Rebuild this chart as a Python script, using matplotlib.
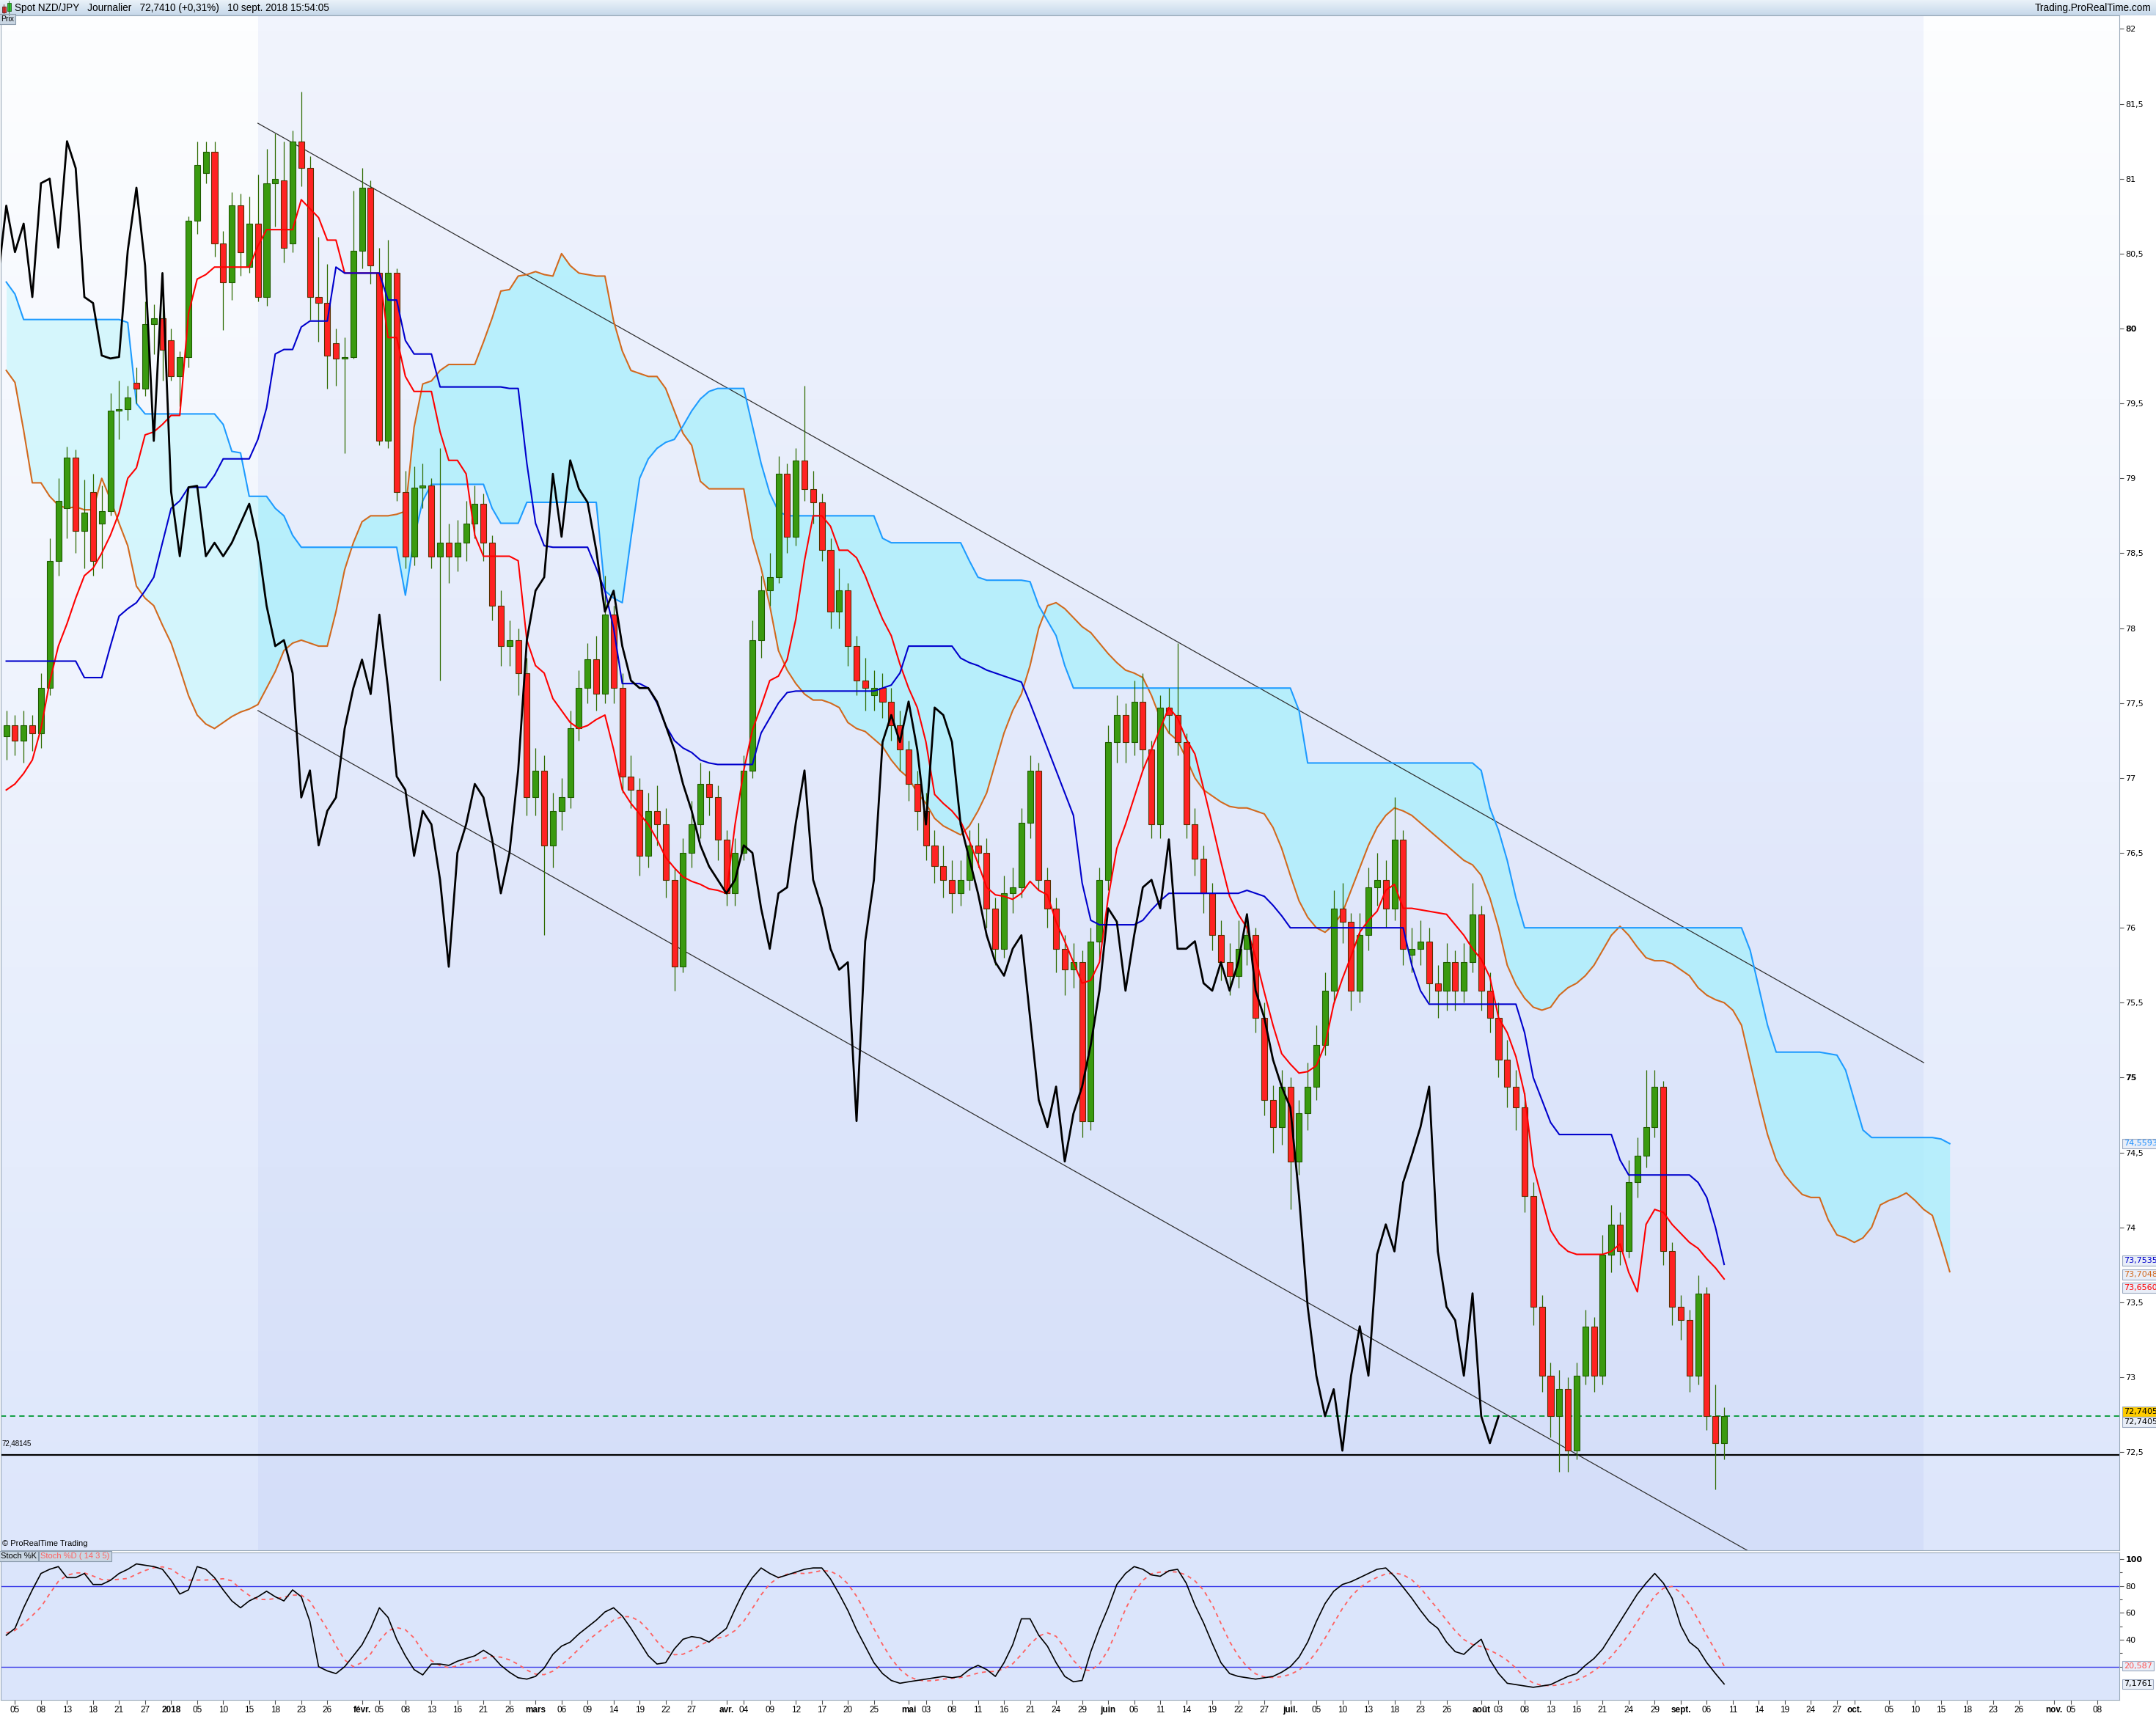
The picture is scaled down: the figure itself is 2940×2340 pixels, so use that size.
import numpy as np
import pandas as pd
import matplotlib
matplotlib.use('Agg')
import matplotlib.pyplot as plt
from matplotlib.colors import LinearSegmentedColormap
from matplotlib.patches import Rectangle

# ---------------- data (one value per trading day, 4 Dec 2017 -> 10 Sep 2018) ----------------
open_ = [77.28, 77.35, 77.25, 77.35, 77.30, 77.60, 78.45, 78.80, 79.14, 78.65,
         78.91, 78.70, 78.78, 79.45, 79.46, 79.64, 79.60, 80.03, 80.07, 79.92,
         79.68, 79.81, 80.72, 81.04, 81.18, 80.57, 80.31, 80.82, 80.41, 80.70,
         80.21, 80.97, 80.99, 80.57, 81.25, 81.07, 80.21, 80.17, 79.90, 79.80,
         79.81, 80.52, 80.94, 80.37, 79.25, 80.37, 78.91, 78.48, 78.94, 78.95,
         78.48, 78.57, 78.48, 78.57, 78.70, 78.83, 78.57, 78.15, 77.88, 77.92,
         77.70, 76.87, 77.05, 76.55, 76.78, 76.87, 77.33, 77.60, 77.79, 77.56,
         78.09, 77.60, 77.01, 76.92, 76.48, 76.78, 76.69, 76.32, 75.74, 76.50,
         76.69, 76.96, 76.87, 76.59, 76.23, 76.50, 77.05, 77.92, 78.25, 78.34,
         79.03, 78.61, 79.12, 78.93, 78.84, 78.52, 78.11, 78.25, 77.88, 77.65,
         77.55, 77.60, 77.51, 77.35, 77.19, 76.96, 76.78, 76.55, 76.41, 76.32,
         76.23, 76.32, 76.55, 76.50, 76.13, 75.86, 76.23, 76.27, 76.70, 77.05,
         76.32, 76.13, 75.86, 75.72, 75.77, 74.71, 75.91, 76.32, 77.24, 77.42,
         77.24, 77.51, 77.19, 76.69, 77.47, 77.42, 77.24, 76.69, 76.46, 76.23,
         75.95, 75.77, 75.68, 75.86, 75.95, 75.40, 74.85, 74.67, 74.94, 74.44,
         74.76, 74.94, 75.22, 75.58, 76.13, 76.04, 75.58, 75.95, 76.27, 76.32,
         76.13, 76.59, 75.82, 75.86, 75.91, 75.63, 75.58, 75.77, 75.58, 75.77,
         76.09, 75.58, 75.40, 75.12, 74.94, 74.80, 74.21, 73.47, 73.01, 72.74,
         72.92, 72.51, 73.01, 73.34, 73.01, 73.82, 74.02, 73.84, 74.30, 74.48,
         74.67, 74.94, 73.84, 73.47, 73.38, 73.01, 73.56, 72.74, 72.56]
high = [77.45, 77.42, 77.45, 77.42, 77.70, 78.60, 79.00, 79.21, 79.19, 78.99,
        79.03, 78.95, 79.57, 79.65, 79.62, 79.74, 80.18, 80.16, 80.23, 80.00,
        79.85, 80.75, 81.25, 81.25, 81.25, 80.65, 80.91, 80.90, 80.88, 81.03,
        81.20, 81.30, 81.25, 81.32, 81.58, 81.15, 80.61, 80.43, 80.00, 79.94,
        80.92, 81.07, 80.99, 80.54, 80.59, 80.40, 79.05, 79.08, 79.10, 79.00,
        79.20, 78.70, 78.72, 78.85, 78.95, 78.90, 78.62, 78.25, 78.05, 78.00,
        77.80, 77.20, 77.15, 76.90, 77.00, 77.45, 77.72, 77.90, 77.95, 78.35,
        78.15, 77.70, 77.15, 77.00, 76.90, 76.95, 76.80, 76.40, 76.60, 76.85,
        77.10, 77.05, 76.95, 76.65, 76.60, 77.15, 78.05, 78.35, 78.50, 79.15,
        79.10, 79.20, 79.62, 79.05, 78.90, 78.60, 78.40, 78.30, 77.95, 77.80,
        77.72, 77.70, 77.60, 77.45, 77.25, 77.05, 76.90, 76.65, 76.55, 76.45,
        76.45, 76.65, 76.70, 76.60, 76.20, 76.35, 76.40, 76.80, 77.15, 77.10,
        76.40, 76.20, 75.95, 75.90, 75.85, 76.00, 76.40, 77.35, 77.55, 77.50,
        77.65, 77.70, 77.25, 77.55, 77.60, 77.90, 77.30, 76.80, 76.55, 76.30,
        76.05, 75.90, 76.05, 76.10, 76.00, 75.50, 74.95, 75.05, 75.00, 74.85,
        75.10, 75.35, 75.70, 76.25, 76.30, 76.10, 76.10, 76.40, 76.50, 76.45,
        76.87, 76.65, 76.00, 76.05, 76.00, 75.75, 75.90, 75.85, 75.90, 76.30,
        76.15, 75.70, 75.50, 75.25, 75.05, 74.90, 74.30, 73.55, 73.10, 73.05,
        73.00, 73.10, 73.45, 73.40, 73.95, 74.15, 74.10, 74.45, 74.60, 75.05,
        75.05, 74.98, 73.90, 73.55, 73.45, 73.68, 73.60, 72.95, 72.80]
low = [77.12, 77.15, 77.10, 77.18, 77.20, 77.55, 78.35, 78.60, 78.50, 78.40,
       78.35, 78.40, 78.75, 79.26, 79.39, 79.50, 79.55, 79.83, 79.65, 79.65,
       79.48, 79.74, 80.63, 80.97, 80.48, 79.99, 80.19, 80.35, 80.37, 80.18,
       80.15, 80.68, 80.44, 80.51, 80.95, 80.06, 79.91, 79.60, 79.62, 79.17,
       79.80, 80.40, 80.30, 79.22, 79.20, 78.85, 78.40, 78.42, 78.80, 78.40,
       77.65, 78.30, 78.38, 78.45, 78.60, 78.45, 78.05, 77.75, 77.75, 77.55,
       76.75, 76.75, 75.95, 76.40, 76.65, 76.80, 77.25, 77.50, 77.45, 77.50,
       77.50, 76.90, 76.80, 76.35, 76.40, 76.55, 76.20, 75.58, 75.70, 76.40,
       76.60, 76.75, 76.45, 76.15, 76.15, 76.45, 77.00, 77.80, 78.15, 78.30,
       78.50, 78.55, 78.85, 78.70, 78.45, 78.00, 78.00, 77.75, 77.55, 77.45,
       77.45, 77.40, 77.25, 77.05, 76.85, 76.65, 76.45, 76.30, 76.20, 76.10,
       76.15, 76.25, 76.40, 76.00, 75.75, 75.80, 76.10, 76.20, 76.60, 76.25,
       76.00, 75.70, 75.55, 75.60, 74.60, 74.65, 75.80, 76.25, 77.10, 77.10,
       77.15, 77.05, 76.60, 76.60, 77.30, 77.15, 76.60, 76.35, 76.10, 75.85,
       75.65, 75.55, 75.60, 75.75, 75.30, 74.75, 74.50, 74.55, 74.12, 74.35,
       74.65, 74.85, 75.15, 75.50, 75.90, 75.45, 75.50, 75.85, 76.15, 76.00,
       76.05, 75.75, 75.70, 75.75, 75.50, 75.40, 75.45, 75.45, 75.50, 75.70,
       75.45, 75.30, 75.00, 74.80, 74.65, 74.10, 73.35, 72.90, 72.60, 72.37,
       72.37, 72.45, 72.95, 72.90, 72.95, 73.70, 73.75, 73.80, 74.20, 74.40,
       74.60, 73.75, 73.35, 73.25, 72.90, 72.95, 72.65, 72.25, 72.45]
close = [77.35, 77.25, 77.35, 77.30, 77.60, 78.45, 78.85, 79.14, 78.65, 78.77,
         78.45, 78.78, 79.45, 79.46, 79.54, 79.60, 80.03, 80.07, 79.86, 79.68,
         79.81, 80.72, 81.09, 81.18, 80.57, 80.31, 80.82, 80.51, 80.70, 80.21,
         80.97, 81.00, 80.54, 81.25, 81.07, 80.21, 80.17, 79.82, 79.80, 79.81,
         80.52, 80.94, 80.42, 79.25, 80.37, 78.91, 78.48, 78.94, 78.95, 78.48,
         78.57, 78.48, 78.57, 78.70, 78.83, 78.57, 78.15, 77.88, 77.92, 77.70,
         76.87, 77.05, 76.55, 76.78, 76.87, 77.33, 77.60, 77.79, 77.56, 78.09,
         77.60, 77.01, 76.92, 76.48, 76.78, 76.69, 76.32, 75.74, 76.50, 76.69,
         76.96, 76.87, 76.59, 76.23, 76.50, 77.05, 77.92, 78.25, 78.34, 79.03,
         78.61, 79.12, 78.93, 78.84, 78.52, 78.11, 78.25, 77.88, 77.65, 77.60,
         77.60, 77.51, 77.35, 77.19, 76.96, 76.78, 76.55, 76.41, 76.32, 76.23,
         76.32, 76.55, 76.50, 76.13, 75.86, 76.23, 76.27, 76.70, 77.05, 76.32,
         76.13, 75.86, 75.72, 75.77, 74.71, 75.91, 76.32, 77.24, 77.42, 77.24,
         77.51, 77.19, 76.69, 77.47, 77.42, 77.24, 76.69, 76.46, 76.23, 75.95,
         75.77, 75.68, 75.86, 75.95, 75.40, 74.85, 74.67, 74.94, 74.44, 74.76,
         74.94, 75.22, 75.58, 76.13, 76.04, 75.58, 75.95, 76.27, 76.32, 76.13,
         76.59, 75.86, 75.86, 75.91, 75.63, 75.58, 75.77, 75.58, 75.77, 76.09,
         75.58, 75.40, 75.12, 74.94, 74.80, 74.21, 73.47, 73.01, 72.74, 72.92,
         72.51, 73.01, 73.34, 73.01, 73.82, 74.02, 73.84, 74.30, 74.48, 74.67,
         74.94, 73.84, 73.47, 73.38, 73.01, 73.56, 72.74, 72.56, 72.74]

tenkan = [76.92, 76.96, 77.03, 77.12, 77.33, 77.64, 77.88, 78.03, 78.20, 78.35,
          78.40, 78.50, 78.62, 78.77, 79.00, 79.07, 79.29, 79.31, 79.36, 79.42,
          79.42, 80.10, 80.33, 80.36, 80.41, 80.41, 80.41, 80.41, 80.41, 80.55,
          80.66, 80.66, 80.66, 80.66, 80.86, 80.80, 80.74, 80.59, 80.59, 80.37,
          80.37, 80.37, 80.37, 80.37, 79.94, 79.94, 79.68, 79.58, 79.58, 79.58,
          79.31, 79.12, 79.12, 79.03, 78.62, 78.48, 78.48, 78.48, 78.48, 78.45,
          77.92, 77.75, 77.70, 77.53, 77.45, 77.37, 77.33, 77.35, 77.39, 77.42,
          77.19, 76.92, 76.83, 76.76, 76.69, 76.59, 76.47, 76.40, 76.34, 76.31,
          76.29, 76.26, 76.25, 76.23, 76.69, 77.05, 77.32, 77.48, 77.65, 77.68,
          77.79, 78.06, 78.45, 78.75, 78.75, 78.68, 78.52, 78.52, 78.47, 78.35,
          78.20, 78.06, 77.95, 77.76, 77.60, 77.47, 77.24, 76.89, 76.83, 76.78,
          76.71, 76.58, 76.43, 76.27, 76.22, 76.21, 76.19, 76.23, 76.31, 76.25,
          76.22, 76.04, 75.91, 75.77, 75.63, 75.65, 75.77, 76.20, 76.53, 76.69,
          76.87, 77.05, 77.19, 77.33, 77.47, 77.40, 77.26, 77.16, 76.93, 76.69,
          76.44, 76.21, 76.09, 76.00, 75.80, 75.57, 75.35, 75.16, 75.09, 75.03,
          75.04, 75.08, 75.22, 75.49, 75.66, 75.81, 75.97, 76.05, 76.11, 76.25,
          76.29, 76.13, 76.13, 76.12, 76.11, 76.10, 76.09, 76.02, 75.95, 75.86,
          75.79, 75.67, 75.40, 75.30, 75.14, 74.89, 74.41, 74.19, 73.98, 73.89,
          73.84, 73.82, 73.82, 73.82, 73.82, 73.84, 73.89, 73.70, 73.57, 74.02,
          74.12, 74.10, 74.02, 73.96, 73.90, 73.86, 73.79, 73.73, 73.656]
kijun = [77.78, 77.78, 77.78, 77.78, 77.78, 77.78, 77.78, 77.78, 77.78, 77.67,
         77.67, 77.67, 77.88, 78.08, 78.13, 78.17, 78.25, 78.34, 78.57, 78.80,
         78.85, 78.94, 78.94, 78.94, 79.02, 79.13, 79.13, 79.13, 79.13, 79.26,
         79.47, 79.83, 79.86, 79.86, 80.01, 80.05, 80.05, 80.05, 80.41, 80.37,
         80.37, 80.37, 80.37, 80.37, 80.19, 80.19, 79.92, 79.83, 79.83, 79.83,
         79.61, 79.61, 79.61, 79.61, 79.61, 79.61, 79.61, 79.61, 79.60, 79.60,
         79.10, 78.70, 78.55, 78.54, 78.54, 78.54, 78.54, 78.54, 78.40, 78.25,
         78.00, 77.63, 77.63, 77.63, 77.60, 77.50, 77.35, 77.25, 77.20, 77.17,
         77.12, 77.10, 77.09, 77.09, 77.09, 77.09, 77.09, 77.30, 77.40, 77.50,
         77.57, 77.58, 77.58, 77.58, 77.58, 77.58, 77.58, 77.58, 77.58, 77.58,
         77.58, 77.60, 77.62, 77.70, 77.88, 77.88, 77.88, 77.88, 77.88, 77.88,
         77.80, 77.77, 77.75, 77.72, 77.70, 77.68, 77.66, 77.64, 77.50, 77.35,
         77.20, 77.05, 76.90, 76.75, 76.30, 76.05, 76.02, 76.02, 76.02, 76.02,
         76.02, 76.05, 76.12, 76.18, 76.23, 76.23, 76.23, 76.23, 76.23, 76.23,
         76.23, 76.23, 76.23, 76.25, 76.23, 76.21, 76.15, 76.08, 76.00, 76.00,
         76.00, 76.00, 76.00, 76.00, 76.00, 76.00, 76.00, 76.00, 76.00, 76.00,
         76.00, 76.00, 75.75, 75.58, 75.49, 75.49, 75.49, 75.49, 75.49, 75.49,
         75.49, 75.49, 75.49, 75.49, 75.49, 75.30, 75.00, 74.85, 74.70, 74.62,
         74.62, 74.62, 74.62, 74.62, 74.62, 74.62, 74.45, 74.35, 74.35, 74.35,
         74.35, 74.35, 74.35, 74.35, 74.35, 74.30, 74.20, 74.00, 73.7535]
# leading spans: 26 extra days into the future (to 16 Oct 2018)
senkou_a = [79.72, 79.64, 79.32, 78.97, 78.97, 78.88, 78.82, 78.80, 78.81, 78.79,
            78.79, 79.00, 78.86, 78.70, 78.55, 78.28, 78.20, 78.15, 78.02, 77.90,
            77.73, 77.55, 77.42, 77.36, 77.33, 77.37, 77.41, 77.44, 77.46, 77.49,
            77.60, 77.71, 77.85, 77.90, 77.92, 77.90, 77.88, 77.88, 78.11, 78.39,
            78.57, 78.71, 78.75, 78.75, 78.75, 78.76, 78.78, 79.34, 79.63, 79.65,
            79.72, 79.76, 79.76, 79.76, 79.76, 79.91, 80.07, 80.25, 80.26, 80.35,
            80.36, 80.38, 80.36, 80.35, 80.50, 80.42, 80.37, 80.36, 80.35, 80.35,
            80.05, 79.85, 79.72, 79.70, 79.68, 79.68, 79.60, 79.45, 79.30, 79.22,
            78.98, 78.93, 78.93, 78.93, 78.93, 78.93, 78.60, 78.40, 78.15, 77.85,
            77.72, 77.63, 77.56, 77.52, 77.52, 77.50, 77.47, 77.37, 77.33, 77.31,
            77.26, 77.21, 77.12, 77.05, 77.00, 76.90, 76.83, 76.73, 76.68, 76.65,
            76.62, 76.68, 76.78, 76.90, 77.10, 77.30, 77.45, 77.56, 77.75, 78.00,
            78.15, 78.17, 78.13, 78.07, 78.01, 77.97, 77.90, 77.83, 77.77, 77.72,
            77.70, 77.67, 77.55, 77.40, 77.30, 77.25, 77.13, 77.00, 76.92, 76.88,
            76.84, 76.81, 76.80, 76.80, 76.78, 76.76, 76.67, 76.53, 76.35, 76.18,
            76.07, 76.00, 75.97, 76.02, 76.10, 76.25, 76.40, 76.55, 76.67, 76.75,
            76.80, 76.78, 76.75, 76.70, 76.65, 76.60, 76.55, 76.50, 76.45, 76.42,
            76.35, 76.20, 76.00, 75.75, 75.62, 75.53, 75.47, 75.45, 75.47, 75.55,
            75.60, 75.63, 75.68, 75.75, 75.85, 75.95, 76.01, 75.95, 75.87, 75.80,
            75.78, 75.78, 75.76, 75.72, 75.68, 75.60, 75.55, 75.52, 75.50, 75.45,
            75.35, 75.10, 74.85, 74.62, 74.45, 74.35, 74.28, 74.22, 74.20, 74.20,
            74.05, 73.95, 73.93, 73.90, 73.93, 74.00, 74.15, 74.18, 74.20, 74.23,
            74.18, 74.12, 74.08, 73.90, 73.7048]
senkou_b = [80.31, 80.23, 80.06, 80.06, 80.06, 80.06, 80.06, 80.06, 80.06, 80.06,
            80.06, 80.06, 80.06, 80.06, 80.04, 79.50, 79.43, 79.43, 79.43, 79.43,
            79.43, 79.43, 79.43, 79.43, 79.43, 79.36, 79.18, 79.17, 78.88, 78.88,
            78.88, 78.80, 78.75, 78.62, 78.54, 78.54, 78.54, 78.54, 78.54, 78.54,
            78.54, 78.54, 78.54, 78.54, 78.54, 78.54, 78.22, 78.60, 78.85, 78.96,
            78.96, 78.96, 78.96, 78.96, 78.96, 78.96, 78.80, 78.70, 78.70, 78.70,
            78.84, 78.84, 78.84, 78.84, 78.84, 78.84, 78.84, 78.84, 78.84, 78.25,
            78.20, 78.17, 78.60, 79.00, 79.13, 79.20, 79.24, 79.26, 79.35, 79.45,
            79.53, 79.58, 79.60, 79.60, 79.60, 79.60, 79.35, 79.10, 78.90, 78.78,
            78.75, 78.75, 78.75, 78.75, 78.75, 78.75, 78.75, 78.75, 78.75, 78.75,
            78.75, 78.60, 78.57, 78.57, 78.57, 78.57, 78.57, 78.57, 78.57, 78.57,
            78.57, 78.45, 78.34, 78.32, 78.32, 78.32, 78.32, 78.32, 78.31, 78.15,
            78.05, 77.95, 77.75, 77.60, 77.60, 77.60, 77.60, 77.60, 77.60, 77.60,
            77.60, 77.60, 77.60, 77.60, 77.60, 77.60, 77.60, 77.60, 77.60, 77.60,
            77.60, 77.60, 77.60, 77.60, 77.60, 77.60, 77.60, 77.60, 77.60, 77.45,
            77.10, 77.10, 77.10, 77.10, 77.10, 77.10, 77.10, 77.10, 77.10, 77.10,
            77.10, 77.10, 77.10, 77.10, 77.10, 77.10, 77.10, 77.10, 77.10, 77.10,
            77.05, 76.80, 76.65, 76.45, 76.20, 76.00, 76.00, 76.00, 76.00, 76.00,
            76.00, 76.00, 76.00, 76.00, 76.00, 76.00, 76.00, 76.00, 76.00, 76.00,
            76.00, 76.00, 76.00, 76.00, 76.00, 76.00, 76.00, 76.00, 76.00, 76.00,
            76.00, 75.85, 75.60, 75.35, 75.17, 75.17, 75.17, 75.17, 75.17, 75.17,
            75.16, 75.15, 75.05, 74.85, 74.65, 74.60, 74.60, 74.60, 74.60, 74.60,
            74.60, 74.60, 74.60, 74.59, 74.5593]
stoch_k = [43.4, 48.5, 63.8, 77.1, 89.3, 92.4, 94.4, 86.2, 86.2, 89.3,
           81.1, 81.1, 84.2, 89.3, 92.4, 96.4, 95.4, 94.4, 92.4, 84.2,
           74.0, 77.1, 94.4, 92.4, 86.2, 77.1, 68.9, 63.8, 68.9, 72.0,
           76.1, 72.0, 68.9, 77.1, 72.0, 53.6, 20.0, 16.9, 14.9, 20.0,
           28.1, 36.3, 48.5, 63.8, 56.7, 40.4, 28.1, 17.9, 13.9, 22.0,
           22.0, 21.0, 24.1, 26.1, 28.1, 32.2, 28.1, 21.0, 15.9, 11.8,
           10.8, 12.8, 19.0, 29.2, 35.3, 38.3, 44.4, 49.5, 54.6, 60.7,
           63.8, 57.7, 48.5, 38.3, 28.1, 22.0, 23.0, 33.2, 40.4, 42.4,
           41.4, 38.3, 43.4, 48.5, 62.8, 76.1, 86.2, 93.4, 89.3, 86.2,
           88.2, 90.3, 92.4, 93.4, 93.4, 85.2, 74.0, 61.8, 47.5, 35.3,
           23.0, 14.9, 9.8, 7.7, 8.8, 9.8, 10.8, 11.8, 12.8, 11.8,
           12.8, 17.9, 21.0, 17.9, 12.8, 23.0, 36.3, 55.6, 55.6, 43.4,
           35.3, 23.0, 12.8, 8.8, 9.8, 31.2, 48.5, 63.8, 81.1, 89.3,
           94.4, 92.4, 88.2, 87.2, 91.3, 92.4, 82.1, 65.9, 52.6, 37.3,
           23.0, 14.9, 12.8, 11.8, 10.8, 11.8, 12.8, 15.9, 20.0, 27.1,
           38.3, 53.6, 66.9, 76.1, 81.1, 83.2, 86.2, 89.3, 92.4, 93.4,
           87.2, 79.1, 70.9, 61.8, 53.6, 48.5, 38.3, 31.2, 29.2, 35.3,
           40.4, 25.1, 14.9, 7.7, 6.7, 5.7, 4.7, 5.7, 6.7, 9.8,
           12.8, 14.9, 21.0, 26.1, 33.2, 43.4, 53.6, 63.8, 74.0, 82.1,
           89.3, 82.1, 70.9, 50.5, 38.3, 33.2, 23.0, 14.9, 7.1761]
stoch_d = [45.0, 47.0, 52.0, 58.0, 64.4, 74.2, 83.4, 87.9, 89.7, 89.7,
           87.4, 84.8, 84.4, 85.0, 85.6, 88.7, 91.5, 93.6, 94.2, 92.6,
           88.1, 84.4, 84.4, 84.4, 84.8, 85.4, 83.8, 77.7, 73.0, 70.1,
           69.9, 70.6, 71.6, 73.2, 73.2, 68.7, 58.3, 47.9, 35.5, 25.1,
           20.0, 23.2, 29.6, 39.3, 46.7, 49.1, 47.5, 41.4, 31.4, 24.5,
           20.8, 19.4, 20.6, 23.0, 24.3, 26.3, 27.7, 27.1, 25.1, 21.8,
           17.5, 14.5, 14.1, 16.7, 21.4, 26.9, 33.2, 39.3, 44.4, 49.5,
           54.6, 57.3, 57.1, 53.8, 47.3, 38.9, 32.0, 28.9, 29.3, 32.2,
           36.1, 39.1, 41.2, 42.8, 46.9, 53.8, 63.4, 73.4, 81.6, 86.2,
           88.7, 89.5, 89.3, 90.1, 91.5, 90.9, 87.7, 81.6, 72.4, 60.8,
           48.3, 36.5, 26.1, 18.1, 12.8, 10.2, 9.4, 9.8, 10.8, 11.4,
           12.0, 13.4, 15.3, 16.3, 16.5, 18.5, 22.2, 29.1, 36.7, 42.8,
           45.2, 42.6, 34.0, 24.7, 17.9, 17.1, 22.2, 32.4, 46.9, 62.8,
           75.4, 84.2, 89.1, 90.3, 90.7, 90.3, 88.2, 83.8, 76.9, 66.1,
           52.2, 38.7, 28.1, 20.0, 14.7, 12.4, 12.0, 12.6, 14.3, 17.5,
           22.8, 31.0, 41.2, 52.4, 63.2, 72.2, 78.7, 83.2, 86.4, 88.9,
           89.7, 88.3, 84.6, 78.5, 70.5, 62.8, 54.6, 46.7, 40.2, 36.5,
           34.9, 32.2, 29.0, 24.7, 19.0, 12.0, 7.9, 6.1, 5.9, 6.5,
           7.9, 10.0, 13.0, 16.9, 21.6, 27.7, 35.5, 44.0, 53.6, 63.4,
           72.6, 78.3, 79.7, 75.0, 66.2, 55.0, 43.2, 32.0, 20.587]

# channel (trading-day index, price)
channel_x = [29, 221]
channel_top = [81.37, 75.10]
channel_bottom = [77.45, 71.18]
support_level = 72.48145
last_price = 72.7405
chikou_shift = 26

tick_list = [('2017-12-05','05'),('2017-12-08','08'),('2017-12-13','13'),('2017-12-18','18'),('2017-12-21','21'),('2017-12-27','27'),('2018-01-02','2018'),('2018-01-05','05'),('2018-01-10','10'),('2018-01-15','15'),('2018-01-18','18'),('2018-01-23','23'),('2018-01-26','26'),('2018-02-01','févr.'),('2018-02-05','05'),('2018-02-08','08'),('2018-02-13','13'),('2018-02-16','16'),('2018-02-21','21'),('2018-02-26','26'),('2018-03-01','mars'),('2018-03-06','06'),('2018-03-09','09'),('2018-03-14','14'),('2018-03-19','19'),('2018-03-22','22'),('2018-03-27','27'),('2018-04-02','avr.'),('2018-04-04','04'),('2018-04-09','09'),('2018-04-12','12'),('2018-04-17','17'),('2018-04-20','20'),('2018-04-25','25'),('2018-05-01','mai'),('2018-05-03','03'),('2018-05-08','08'),('2018-05-11','11'),('2018-05-16','16'),('2018-05-21','21'),('2018-05-24','24'),('2018-05-29','29'),('2018-06-01','juin'),('2018-06-06','06'),('2018-06-11','11'),('2018-06-14','14'),('2018-06-19','19'),('2018-06-22','22'),('2018-06-27','27'),('2018-07-02','juil.'),('2018-07-05','05'),('2018-07-10','10'),('2018-07-13','13'),('2018-07-18','18'),('2018-07-23','23'),('2018-07-26','26'),('2018-08-01','août'),('2018-08-03','03'),('2018-08-08','08'),('2018-08-13','13'),('2018-08-16','16'),('2018-08-21','21'),('2018-08-24','24'),('2018-08-29','29'),('2018-09-03','sept.'),('2018-09-06','06'),('2018-09-11','11'),('2018-09-14','14'),('2018-09-19','19'),('2018-09-24','24'),('2018-09-27','27'),('2018-10-01','oct.'),('2018-10-05','05'),('2018-10-10','10'),('2018-10-15','15'),('2018-10-18','18'),('2018-10-23','23'),('2018-10-26','26'),('2018-11-01','nov.'),('2018-11-05','05'),('2018-11-08','08')]

# ---------------- arrays ----------------
o = np.array(open_); h = np.array(high); l = np.array(low); c = np.array(close)
N = len(c)
pos = np.arange(N)
cpos = np.arange(len(senkou_a))
ssa = np.array(senkou_a); ssb = np.array(senkou_b)

days = pd.bdate_range('2017-12-04', '2018-11-09')
days = days[~days.isin(pd.to_datetime(['2017-12-25', '2018-01-01']))]
dindex = {d.strftime('%Y-%m-%d'): i for i, d in enumerate(days)}

# ---------------- figure ----------------
FW, FH = 2940, 2340
fig = plt.figure(figsize=(FW / 100, FH / 100), dpi=100)
fig.patch.set_facecolor('white')

def fr(x0, y0, x1, y1):
    return [x0 / FW, 1 - y1 / FH, (x1 - x0) / FW, (y1 - y0) / FH]

FONT = ['Liberation Sans', 'DejaVu Sans']
NARROW = ['Liberation Sans Narrow', 'Liberation Sans', 'DejaVu Sans']

XMIN, XMAX = -0.64, 243.55
PY0, PY1 = 71.845, 82.09

# header
axh = fig.add_axes(fr(0, 0, FW, 21))
axh.set_xlim(0, FW); axh.set_ylim(21, 0)
axh.imshow(np.linspace(0, 1, 40).reshape(-1, 1), aspect='auto', extent=[0, FW, 21, 0],
           cmap=LinearSegmentedColormap.from_list('h', ['#eaf2f9', '#c6d8ea']))
axh.axhline(20.5, color='#98a8b8', lw=1)
axh.add_patch(Rectangle((3, 9), 5, 8, facecolor='#e03030', edgecolor='#602020', lw=0.6))
axh.add_patch(Rectangle((10, 4), 5, 11, facecolor='#30c030', edgecolor='#206020', lw=0.6))
axh.plot([5.5, 5.5], [6, 19], color='#602020', lw=0.6)
axh.plot([12.5, 12.5], [1, 18], color='#206020', lw=0.6)
axh.text(20, 10.5, 'Spot NZD/JPY   Journalier   72,7410 (+0,31%)   10 sept. 2018 15:54:05',
         va='center', ha='left', fontsize=9.8, family=FONT)
axh.text(2934, 10.5, 'Trading.ProRealTime.com', va='center', ha='right', fontsize=9.8, family=FONT)
axh.set_axis_off()

# price panel
axp = fig.add_axes(fr(1, 21, 2890, 2114))
axp.set_xlim(XMIN, XMAX); axp.set_ylim(PY0, PY1)
axp.imshow(np.linspace(0, 1, 100).reshape(-1, 1), aspect='auto', extent=[XMIN, XMAX, PY0, PY1],
           cmap=LinearSegmentedColormap.from_list('bg', ['#fdfeff', '#dde6fb']), zorder=0)
axp.axvspan(channel_x[0], channel_x[1], color='#8aa0f0', alpha=0.10, lw=0, zorder=0.5)

left = cpos <= channel_x[0]
right = cpos >= channel_x[0]
axp.fill_between(cpos[left], ssa[left], ssb[left], color='#c8f6fc', alpha=0.7, lw=0, zorder=1)
axp.fill_between(cpos[right], ssa[right], ssb[right], color='#a8f0fc', alpha=0.75, lw=0, zorder=1)
axp.plot(cpos, ssa, color='#d2691e', lw=1.5, zorder=3)
axp.plot(cpos, ssb, color='#1e9bff', lw=1.5, zorder=3)

axp.plot(channel_x, channel_top, color='#303030', lw=0.9, zorder=2)
axp.plot(channel_x, channel_bottom, color='#303030', lw=0.9, zorder=2)

axp.axhline(support_level, color='black', lw=1.6, zorder=2)
axp.axhline(last_price, color='#009933', lw=1.3, ls=(0, (4, 3)), zorder=2)
axp.text(0.0005, support_level + 0.05, '72,48145', transform=axp.get_yaxis_transform(), fontsize=7,
         family=FONT, va='bottom', ha='left')

up = c >= o
w = 0.68
axp.vlines(pos, l, h, color='#2e6b00', lw=0.9, zorder=4)
axp.bar(pos[up], (c - o)[up], bottom=o[up], width=w, color='#3a9a10', edgecolor='#1f5c00', lw=0.8, zorder=5)
axp.bar(pos[~up], (o - c)[~up], bottom=c[~up], width=w, color='#ff2222', edgecolor='#5a3000', lw=0.8, zorder=5)

axp.plot(pos, tenkan, color='#ff0000', lw=1.5, zorder=6)
axp.plot(pos, kijun, color='#0000cc', lw=1.5, zorder=6)
axp.plot(pos - chikou_shift, c, color='black', lw=2.0, zorder=6)

axp.text(0.0008, PY0 + 0.02, '© ProRealTime Trading', transform=axp.get_yaxis_transform(),
         fontsize=8, family=FONT, va='bottom', ha='left')

for s in axp.spines.values():
    s.set_color('#98a8b8')
axp.set_xticks([])
axp.yaxis.tick_right()
yt = np.arange(72.5, 82.01, 0.5)
axp.set_yticks(yt)
axp.set_yticklabels([('%g' % v).replace('.', ',') for v in yt], family='DejaVu Sans', fontsize=8)
for lab, v in zip(axp.get_yticklabels(), yt):
    if v in (75, 80):
        lab.set_fontweight('bold')
axp.tick_params(axis='y', length=4, width=0.8, color='#505050', pad=2)

def rlabel(ax, y, text, color, fc='#e9eef8', ec='#9aa8c0', yoff=0):
    ax.annotate(text, xy=(1.0, y), xycoords=ax.get_yaxis_transform(), xytext=(6, yoff),
                textcoords='offset pixels', fontsize=8, family='DejaVu Sans', color=color,
                va='center', ha='left', annotation_clip=False,
                bbox=dict(boxstyle='square,pad=0.15', fc=fc, ec=ec, lw=0.8))

rlabel(axp, senkou_b[-1], '74,5593', '#1e90ff')
rlabel(axp, kijun[-1], '73,7535', '#0000cc', yoff=5)
rlabel(axp, senkou_a[-1], '73,7048', '#d2691e', yoff=-4)
rlabel(axp, tenkan[-1], '73,6560', '#ff0000', yoff=-12)
rlabel(axp, last_price, '72,7405', 'black', fc='#ffcc00', yoff=6)
rlabel(axp, last_price, '72,7405', 'black', yoff=-8)

axp.text(0.0, 1.0, 'Prix', transform=axp.transAxes, fontsize=7.5, family=FONT, va='top', ha='left',
         bbox=dict(boxstyle='square,pad=0.2', fc='#c9d6e3', ec='#8899aa', lw=0.8))

# stochastic panel
axs = fig.add_axes(fr(1, 2117, 2890, 2318))
axs.set_xlim(XMIN, XMAX); axs.set_ylim(-4.63, 104.9)
axs.set_facecolor('#dbe5fb')
axs.axhline(80, color='#3434e8', lw=1.0)
axs.axhline(20, color='#3434e8', lw=1.0)
axs.plot(pos, stoch_d, color='#ff6060', lw=1.3, ls=(0, (3, 3)))
axs.plot(pos, stoch_k, color='black', lw=1.2)
for s in axs.spines.values():
    s.set_color('#98a8b8')
axs.yaxis.tick_right()
axs.set_yticks([20, 40, 60, 80, 100])
axs.set_yticklabels(['', '40', '60', '80', '100'], family='DejaVu Sans', fontsize=8)
axs.get_yticklabels()[-1].set_fontweight('bold')
axs.set_yticks([30, 50, 70, 90], minor=True)
axs.tick_params(axis='y', which='both', length=4, width=0.8, color='#505050', pad=2)
axs.tick_params(axis='y', which='minor', length=3)
rlabel(axs, stoch_d[-1], '20,587', '#ff5050')
rlabel(axs, stoch_k[-1], '7,1761', 'black')

tpos = [dindex[d] for d, _ in tick_list]
axs.set_xticks(tpos)
axs.set_xticklabels([t for _, t in tick_list], family=NARROW, fontsize=8.5)
bold = {'2018', 'févr.', 'mars', 'avr.', 'mai', 'juin', 'juil.', 'août', 'sept.', 'oct.', 'nov.'}
for lab in axs.get_xticklabels():
    if lab.get_text() in bold:
        lab.set_fontweight('bold')
axs.tick_params(axis='x', length=4, width=0.8, color='#505050', pad=2)

axs.text(0.0, 1.0, 'Stoch %K', transform=axs.transAxes, fontsize=8, family=FONT, va='top', ha='left',
         bbox=dict(boxstyle='square,pad=0.2', fc='#c9d6e3', ec='#8899aa', lw=0.8))
axs.text(0.0188, 1.0, 'Stoch %D ( 14 3 5)', transform=axs.transAxes, fontsize=8, family=FONT,
         color='#ff6060', va='top', ha='left',
         bbox=dict(boxstyle='square,pad=0.2', fc='#c9d6e3', ec='#8899aa', lw=0.8))

fig.savefig('out.png', dpi=100)
